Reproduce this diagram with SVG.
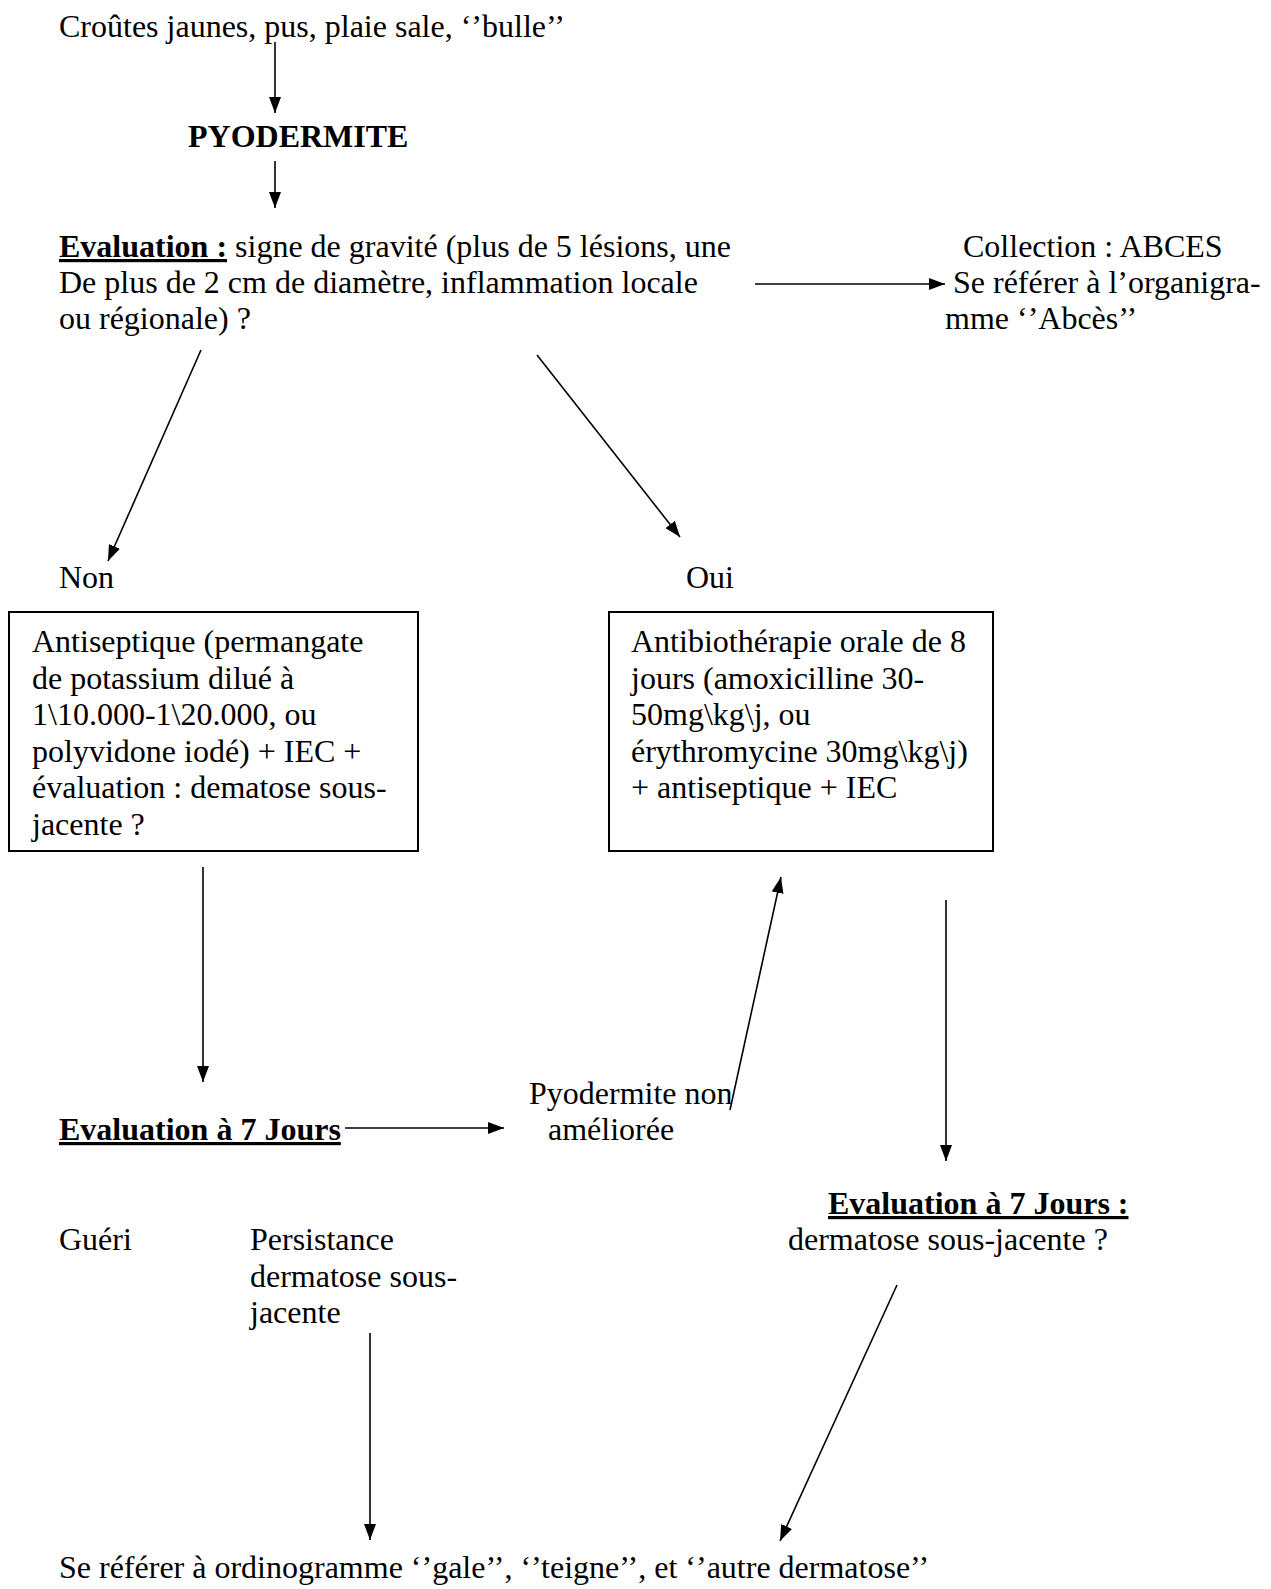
<svg xmlns="http://www.w3.org/2000/svg" width="1271" height="1589" viewBox="0 0 1271 1589">
<style>
text{font-family:"Liberation Serif","Times New Roman",serif;font-size:32px;fill:#000}
.b{font-weight:bold}
.u{text-decoration:underline}
.box{fill:#fff;stroke:#000;stroke-width:2}
.c line{stroke:#000;stroke-width:1.6;marker-end:url(#ah)}
</style>
<defs>
<marker id="ah" markerUnits="userSpaceOnUse" markerWidth="16" markerHeight="12" viewBox="0 0 16 12" refX="16" refY="6" orient="auto">
<path d="M0,0 L16,6 L0,12 z" fill="#000"/>
</marker>
</defs>
<rect width="1271" height="1589" fill="#fff"/>
<g id="n-symptomes"><text x="59" y="37">Croûtes jaunes, pus, plaie sale, ‘’bulle’’</text></g>
<g id="n-pyodermite"><text x="188" y="147" class="b">PYODERMITE</text></g>
<g id="n-evaluation">
<text x="59" y="257"><tspan class="b u">Evaluation :</tspan> signe de gravité (plus de 5 lésions, une</text>
<text x="59" y="293">De plus de 2 cm de diamètre, inflammation locale</text>
<text x="59" y="329">ou régionale) ?</text>
</g>
<g id="n-abces">
<text x="963" y="257">Collection : ABCES</text>
<text x="953" y="293">Se référer à l’organigra-</text>
<text x="945" y="329">mme ‘’Abcès’’</text>
</g>
<g id="n-non"><text x="59" y="588">Non</text></g>
<g id="n-oui"><text x="686" y="588">Oui</text></g>
<g id="n-antiseptique">
<rect class="box" x="9" y="612" width="409" height="239"/>
<text x="32" y="652">Antiseptique (permangate</text>
<text x="32" y="689">de potassium dilué à</text>
<text x="32" y="725">1\10.000-1\20.000, ou</text>
<text x="32" y="762">polyvidone iodé) + IEC +</text>
<text x="32" y="798">évaluation : dematose sous-</text>
<text x="32" y="835">jacente ?</text>
</g>
<g id="n-antibio">
<rect class="box" x="609" y="612" width="384" height="239"/>
<text x="631" y="652">Antibiothérapie orale de 8</text>
<text x="631" y="689">jours (amoxicilline 30-</text>
<text x="631" y="725">50mg\kg\j, ou</text>
<text x="631" y="762">érythromycine 30mg\kg\j)</text>
<text x="631" y="798">+ antiseptique + IEC</text>
</g>
<g id="n-eval7a"><text x="59" y="1140" class="b u">Evaluation à 7 Jours</text></g>
<g id="n-nonamelioree">
<text x="529" y="1104">Pyodermite non</text>
<text x="548" y="1140">améliorée</text>
</g>
<g id="n-eval7b">
<text x="828" y="1214" class="b u">Evaluation à 7 Jours :</text>
<text x="788" y="1250">dermatose sous-jacente ?</text>
</g>
<g id="n-gueri"><text x="59" y="1250">Guéri</text></g>
<g id="n-persistance">
<text x="250" y="1250">Persistance</text>
<text x="250" y="1287">dermatose sous-</text>
<text x="250" y="1323">jacente</text>
</g>
<g id="n-referer"><text x="59" y="1578">Se référer à ordinogramme ‘’gale’’, ‘’teigne’’, et ‘’autre dermatose’’</text></g>
<g id="connectors" class="c">
<line x1="275" y1="42" x2="275" y2="113"/>
<line x1="275" y1="161" x2="275" y2="208"/>
<line x1="755" y1="284" x2="945" y2="284"/>
<line x1="201" y1="350" x2="108" y2="561"/>
<line x1="537" y1="355" x2="680" y2="537"/>
<line x1="203" y1="867" x2="203" y2="1082"/>
<line x1="345" y1="1128" x2="504" y2="1128"/>
<line x1="730" y1="1110" x2="781" y2="877"/>
<line x1="946" y1="900" x2="946" y2="1161"/>
<line x1="370" y1="1333" x2="370" y2="1540"/>
<line x1="897" y1="1285" x2="780" y2="1541"/>
</g>
</svg>
